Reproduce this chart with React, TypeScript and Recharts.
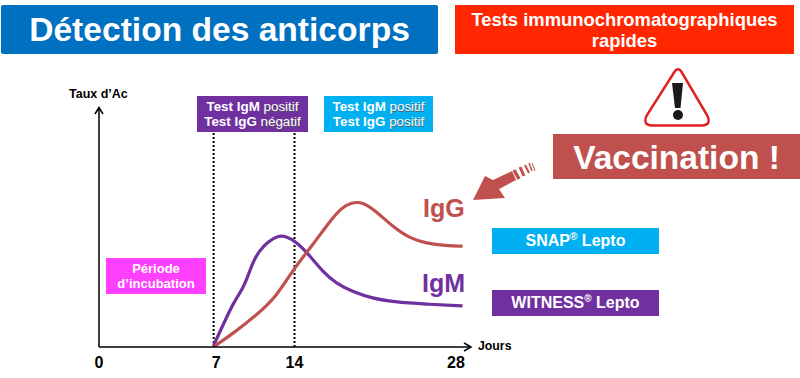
import { LineChart, Line, XAxis, YAxis, ReferenceLine } from 'recharts';
import type { CSSProperties, ReactNode } from 'react';

// the day axis of the schema is not to scale, so x is a position along the axis (0-100)
const tickPositions = [0, 31.6, 52.7, 96.2];
const tickLabels = ['0', '7', '14', '28'];
const testLimits = [30.9, 52.7];

const igmX = [30.9, 30.9, 33.4, 36.1, 38.8, 40.1, 41.5, 43.3, 45.5, 48.2, 50.4, 53.1, 56.3, 60.3, 63.9, 68.4, 73.8, 79.2, 88.2, 98, 98];
const igmY = [0.7, 0.7, 9.1, 18.2, 24.5, 29.4, 35.7, 40.4, 44, 46.6, 46.4, 44.1, 39.2, 31.5, 26.6, 23.1, 20.3, 18.9, 17.9, 17.2, 17.2];
const iggX = [31.1, 31.1, 36.1, 42.4, 47.8, 52.2, 57.6, 62.1, 65.5, 68, 71, 74.7, 79.2, 83.7, 88.2, 93.5, 98, 98];
const iggY = [0.3, 0.3, 5.6, 13.3, 21, 32.2, 42.7, 52.4, 58.5, 60.4, 60.8, 56.8, 50.3, 45.5, 43.4, 42.4, 42.2, 42.2];

const igmData = igmX.map((x, i) => ({ x, y: igmY[i] }));
const iggData = iggX.map((x, i) => ({ x, y: iggY[i] }));

const PURPLE = '#7030A0';
const RED = '#C0504D';
const CYAN = '#00B0F0';
const FONT = '"Liberation Sans", Arial, sans-serif';

function Box(props: { x: number; y: number; w: number; h: number; bg: string; size: number; lh?: number; radius?: number; pad?: number; children: ReactNode }) {
  const style: CSSProperties = {
    position: 'absolute',
    left: props.x,
    top: props.y,
    width: props.w,
    height: props.h,
    boxSizing: 'border-box',
    paddingTop: props.pad ?? 0,
    background: props.bg,
    borderRadius: props.radius ?? 0,
    color: '#fff',
    fontWeight: 700,
    fontSize: props.size,
    lineHeight: props.lh ? `${props.lh}px` : undefined,
    display: 'flex',
    alignItems: 'center',
    justifyContent: 'center',
    textAlign: 'center',
    whiteSpace: 'nowrap',
  };
  return <div style={style}><div>{props.children}</div></div>;
}

function Label(props: { x: number; y: number; size: number; color: string; children: ReactNode }) {
  return (
    <div style={{ position: 'absolute', left: props.x, top: props.y, fontSize: props.size, fontWeight: 700, color: props.color, lineHeight: 1, whiteSpace: 'nowrap' }}>
      {props.children}
    </div>
  );
}

const faded: CSSProperties = { fontWeight: 400, textShadow: '0.6px 0.6px 0.6px #555' };

export default function App() {
  return (
    <div style={{ position: 'absolute', left: 0, top: 0, width: 800, height: 378, overflow: 'hidden', background: '#fff', fontFamily: FONT }}>
      <div style={{ position: 'absolute', left: 0, top: 0 }}>
        <LineChart width={800} height={378} margin={{ top: 108, right: 330, left: 0, bottom: 0 }}>
          <XAxis
            type="number"
            dataKey="x"
            domain={[0, 100]}
            ticks={tickPositions}
            tickFormatter={(v) => tickLabels[tickPositions.indexOf(v)]}
            interval={0}
            height={31}
            tickLine={false}
            tickMargin={4}
            axisLine={{ stroke: '#000', strokeWidth: 1.5 }}
            tick={{ fontSize: 16, fontWeight: 700, fill: '#000', fontFamily: FONT }}
          />
          <YAxis
            type="number"
            domain={[0, 100]}
            ticks={[]}
            width={99}
            tickLine={false}
            axisLine={{ stroke: '#000', strokeWidth: 1.5 }}
          />
          {testLimits.map((x) => (
            <ReferenceLine
              key={x}
              segment={[{ x, y: 0 }, { x, y: 90 }]}
              stroke="#000"
              strokeWidth={2}
              strokeDasharray="2 2"
            />
          ))}
          <Line data={igmData} dataKey="y" type="basis" stroke={PURPLE} strokeWidth={3.2} dot={false} isAnimationActive={false} />
          <Line data={iggData} dataKey="y" type="basis" stroke={RED} strokeWidth={3.2} dot={false} isAnimationActive={false} />
        </LineChart>
      </div>

      {/* arrow heads, warning sign and the hatched arrow */}
      <svg width={800} height={378} style={{ position: 'absolute', left: 0, top: 0 }}>
        <polyline points="95,114 99,107.5 103,114" fill="none" stroke="#000" strokeWidth={1.5} />
        <polyline points="464,343 471,347 464,351" fill="none" stroke="#000" strokeWidth={1.5} />
        <path d="M675 71 Q678 67.5 681 71 L707 115 Q712 125 702 125.5 L652 125.5 Q642 125 647 115 Z" fill="#fff" stroke="#E02020" strokeWidth={2.5} />
        <path d="M672 83 L683 83 L680.5 108 L675 108 Z" fill="#1a1a1a" />
        <circle cx={678} cy={115} r={5} fill="#1a1a1a" />
        <path d="M473 200 L485 176 L493 180 L512 171 L516 180 L499 189 L505 198 Z" fill={RED} />
        <g stroke={RED} strokeLinecap="butt">
          <line x1={514} y1={170} x2={519} y2={179} strokeWidth={3.5} />
          <line x1={520} y1={167} x2={524} y2={176} strokeWidth={3} />
          <line x1={525} y1={165} x2={529} y2={173} strokeWidth={2} />
          <line x1={529} y1={163} x2={532} y2={171} strokeWidth={1.5} />
          <line x1={532} y1={163} x2={535} y2={171} strokeWidth={1} />
        </g>
      </svg>

      <Box x={1} y={5} w={437} h={49} bg="#0070C0" size={33.6} radius={2}>Détection des anticorps</Box>
      <Box x={455} y={5} w={339} h={49} bg="#FF2600" size={18.4} lh={21}>
        Tests immunochromatographiques<br />rapides
      </Box>
      <Box x={553} y={134} w={247} h={45} bg={RED} size={33.5} pad={2}>Vaccination !</Box>

      <Box x={197} y={96} w={111} h={36} bg={PURPLE} size={13.4} lh={15}>
        Test IgM <span style={faded}>positif</span><br />Test IgG <span style={faded}>négatif</span>
      </Box>
      <Box x={324} y={96} w={109} h={36} bg={CYAN} size={13.4} lh={15}>
        Test IgM <span style={faded}>positif</span><br />Test IgG <span style={faded}>positif</span>
      </Box>
      <Box x={106} y={258} w={100} h={36} bg="#FF40FF" size={13} lh={15}>
        Période<br />d’incubation
      </Box>
      <Box x={492} y={228} w={167} h={26} bg={CYAN} size={16}>
        SNAP<sup style={{ fontSize: 10, lineHeight: 0 }}>®</sup> Lepto
      </Box>
      <Box x={492} y={290} w={167} h={26} bg={PURPLE} size={16}>
        WITNESS<sup style={{ fontSize: 10, lineHeight: 0 }}>®</sup> Lepto
      </Box>

      <Label x={69} y={88} size={12.5} color="#000">Taux d’Ac</Label>
      <Label x={478} y={340} size={12.3} color="#000">Jours</Label>
      <Label x={423} y={196} size={25} color={RED}>IgG</Label>
      <Label x={422} y={271} size={25} color={PURPLE}>IgM</Label>
    </div>
  );
}
